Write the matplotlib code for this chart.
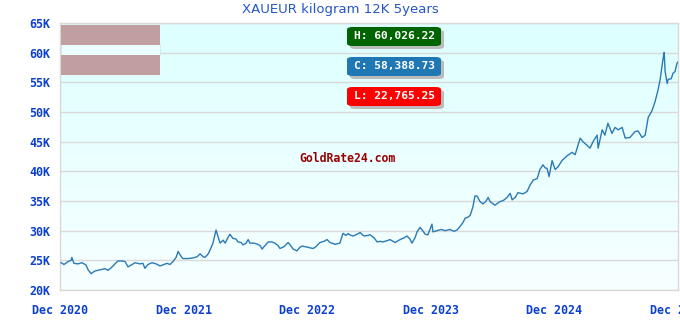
import numpy as np
import pandas as pd
import matplotlib
matplotlib.use("Agg")
import matplotlib.pyplot as plt
import matplotlib.dates as mdates
from matplotlib.patches import FancyBboxPatch, Rectangle

title = "XAUEUR kilogram 12K 5years"
high_label = "H: 60,026.22"
close_label = "C: 58,388.73"
low_label = "L: 22,765.25"
watermark = "GoldRate24.com"

dates = [
    "2020-12-04", "2020-12-13", "2020-12-25", "2021-01-03", "2021-01-05", "2021-01-11",
    "2021-01-23", "2021-02-04", "2021-02-16", "2021-02-22", "2021-03-03", "2021-03-14",
    "2021-03-29", "2021-04-13", "2021-04-22", "2021-05-04", "2021-05-21", "2021-06-02",
    "2021-06-11", "2021-06-20", "2021-07-02", "2021-07-11", "2021-07-25", "2021-08-03",
    "2021-08-09", "2021-08-18", "2021-08-30", "2021-09-11", "2021-09-23", "2021-10-04",
    "2021-10-13", "2021-10-22", "2021-10-31", "2021-11-09", "2021-11-15", "2021-11-21",
    "2021-11-29", "2021-12-14", "2021-12-29", "2022-01-10", "2022-01-19", "2022-01-28",
    "2022-02-02", "2022-02-11", "2022-02-17", "2022-02-26", "2022-03-07", "2022-03-13",
    "2022-03-19", "2022-03-28", "2022-04-03", "2022-04-11", "2022-04-17", "2022-04-26",
    "2022-05-05", "2022-05-11", "2022-05-20", "2022-05-26", "2022-06-04", "2022-06-10",
    "2022-06-15", "2022-06-27", "2022-07-06", "2022-07-15", "2022-07-21", "2022-07-30",
    "2022-08-08", "2022-08-19", "2022-08-28", "2022-09-06", "2022-09-12", "2022-09-24",
    "2022-10-06", "2022-10-12", "2022-10-21", "2022-11-01", "2022-11-10", "2022-11-16",
    "2022-11-25", "2022-12-04", "2022-12-10", "2022-12-19", "2022-12-27", "2023-01-08",
    "2023-01-20", "2023-01-29", "2023-02-07", "2023-02-22", "2023-03-08", "2023-03-17",
    "2023-03-26", "2023-04-01", "2023-04-10", "2023-04-16", "2023-04-28", "2023-05-07",
    "2023-05-15", "2023-05-21", "2023-06-05", "2023-06-17", "2023-06-26", "2023-07-05",
    "2023-07-13", "2023-07-25", "2023-08-03", "2023-08-18", "2023-09-02", "2023-09-14",
    "2023-09-22", "2023-10-01", "2023-10-07", "2023-10-16", "2023-10-22", "2023-10-31",
    "2023-11-09", "2023-11-15", "2023-11-23", "2023-12-05", "2023-12-08", "2023-12-20",
    "2024-01-01", "2024-01-13", "2024-01-27", "2024-02-08", "2024-02-17", "2024-02-26",
    "2024-03-06", "2024-03-12", "2024-03-21", "2024-03-27", "2024-04-04", "2024-04-10",
    "2024-04-16", "2024-04-25", "2024-05-04", "2024-05-13", "2024-05-19", "2024-05-25",
    "2024-06-08", "2024-06-23", "2024-07-02", "2024-07-14", "2024-07-23", "2024-07-29",
    "2024-08-07", "2024-08-15", "2024-08-30", "2024-09-11", "2024-09-20", "2024-09-29",
    "2024-10-11", "2024-10-19", "2024-10-28", "2024-11-03", "2024-11-09", "2024-11-15",
    "2024-11-24", "2024-12-03", "2024-12-12", "2024-12-23", "2025-01-07", "2025-01-22",
    "2025-01-31", "2025-02-06", "2025-02-15", "2025-02-23", "2025-03-07", "2025-03-16",
    "2025-03-25", "2025-04-06", "2025-04-09", "2025-04-21", "2025-04-29", "2025-05-08",
    "2025-05-20", "2025-05-29", "2025-06-07", "2025-06-19", "2025-06-28", "2025-07-12",
    "2025-07-27", "2025-08-05", "2025-08-17", "2025-08-26", "2025-09-04", "2025-09-15",
    "2025-09-24", "2025-10-03", "2025-10-09", "2025-10-18", "2025-10-21", "2025-10-24",
    "2025-10-30", "2025-11-02", "2025-11-11", "2025-11-16", "2025-11-22", "2025-11-28",
    "2025-11-30",
]

prices_k = [
    24.6, 24.3, 24.8, 25.0, 25.5, 24.5,
    24.4, 24.6, 24.2, 23.4, 22.765, 23.2,
    23.4, 23.6, 23.3, 23.9, 24.9, 24.9,
    24.8, 23.9, 24.3, 24.6, 24.4, 24.5,
    23.65, 24.3, 24.6, 24.4, 24.05, 24.3,
    24.5, 24.3, 24.8, 25.5, 26.5, 25.9,
    25.3, 25.3, 25.4, 25.6, 26.1, 25.6,
    25.5, 26.0, 26.7, 27.9, 30.1, 29.0,
    27.9, 28.4, 27.9, 28.8, 29.4, 28.7,
    28.6, 28.1, 28.0, 27.6, 27.9, 28.5,
    27.9, 27.9, 27.75, 27.5, 26.9, 27.5,
    28.1, 28.1, 27.9, 27.5, 27.0, 27.3,
    28.0, 27.6, 26.9, 26.6, 27.2, 27.4,
    27.3, 27.2, 27.1, 27.0, 27.3, 28.0,
    28.2, 28.5, 28.0, 27.7, 27.9, 29.55,
    29.2, 29.5, 29.2, 29.1, 29.4, 29.7,
    29.2, 29.1, 29.3, 28.8, 28.1, 28.2,
    28.1, 28.3, 28.5, 28.0, 28.5, 28.8,
    29.1, 28.6, 27.9, 28.8, 29.8, 30.55,
    29.9, 29.4, 29.3, 31.1, 29.8, 30.0,
    30.2, 30.0, 30.2, 29.9, 30.1, 30.7,
    31.4, 32.1, 32.3, 32.6, 34.0, 35.85,
    35.85, 34.9, 34.5, 35.0, 35.6, 34.9,
    34.3, 34.9, 35.05, 35.6, 36.3, 35.2,
    35.6, 36.4, 36.2, 36.6, 37.7, 38.5,
    38.8, 40.3, 41.1, 40.6, 40.5, 39.1,
    41.8, 40.3, 40.8, 41.8, 42.6, 43.2,
    42.8, 43.9, 45.6, 45.0, 44.4, 43.9,
    45.0, 46.1, 43.9, 47.0, 46.1, 48.1,
    46.4, 47.4, 47.0, 47.4, 45.6, 45.7,
    46.7, 46.8, 45.7, 46.1, 49.1, 50.2,
    51.7, 53.7, 55.4, 59.05, 60.026, 56.8,
    54.8, 55.5, 55.6, 56.5, 56.8, 58.2,
    58.389,
]

tick_dates = ["2020-12-01", "2021-12-01", "2022-12-01", "2023-12-01", "2024-12-01", "2025-12-01"]
tick_labels = ["Dec 2020", "Dec 2021", "Dec 2022", "Dec 2023", "Dec 2024", "Dec 2025"]
y_ticks = [20, 25, 30, 35, 40, 45, 50, 55, 60, 65]
y_tick_labels = ["20K", "25K", "30K", "35K", "40K", "45K", "50K", "55K", "60K", "65K"]

W, H = 680, 320
fig = plt.figure(figsize=(W / 100, H / 100), dpi=100)
fig.patch.set_facecolor("white")

def fx(px):
    return px / W

def fy(py):
    return 1 - py / H

ax = fig.add_axes([fx(60), fy(290), fx(678) - fx(60), fy(23) - fy(290)])

x = pd.to_datetime(dates)
y = np.array(prices_k)

xmin = pd.Timestamp(tick_dates[0])
xmax = pd.Timestamp(tick_dates[-1])
ax.set_xlim(xmin, xmax)
ax.set_ylim(20, 65)

# gradient background
grad = np.linspace(0, 1, 256).reshape(-1, 1)
top_c = np.array([221, 255, 255]) / 255
bot_c = np.array([247, 255, 255]) / 255
img = top_c * (1 - grad[..., None]) + bot_c * grad[..., None]
img = img.reshape(256, 1, 3)
ax.imshow(img, aspect="auto", extent=[mdates.date2num(xmin), mdates.date2num(xmax), 20, 65],
          origin="upper", zorder=0)

ax.set_yticks(y_ticks)
ax.set_yticklabels(y_tick_labels)
ax.set_xticks(pd.to_datetime(tick_dates))
ax.set_xticklabels(tick_labels)
ax.grid(axis="y", color="#d9d9d9", linewidth=1, zorder=1)
ax.grid(axis="x", visible=False)
for s in ax.spines.values():
    s.set_color("#d9d9d9")
    s.set_linewidth(1)
ax.tick_params(length=0)
tick_color = "#0a3fd0"
for lab in ax.get_yticklabels():
    lab.set_fontfamily("DejaVu Sans Mono")
    lab.set_fontweight("bold")
    lab.set_fontsize(8.4)
    lab.set_color(tick_color)
for lab in ax.get_xticklabels():
    lab.set_fontfamily("DejaVu Sans Mono")
    lab.set_fontweight("bold")
    lab.set_fontsize(8.4)
    lab.set_color(tick_color)
ax.tick_params(axis="y", pad=7)
ax.tick_params(axis="x", pad=10)

ax.plot(x, y, color="#2a7ab5", linewidth=1.0, zorder=3)

# title
fig.text(fx(340), fy(10), title, ha="center", va="center", fontsize=9.5,
         color="#2456c8", family="DejaVu Sans")

# legend-like rectangles
fig.patches.append(Rectangle((fx(61), fy(45)), fx(99), fy(25) - fy(45),
                             transform=fig.transFigure, facecolor="#c19fa0", edgecolor="none", zorder=5))
fig.patches.append(Rectangle((fx(61), fy(55)), fx(99), fy(44) - fy(55),
                             transform=fig.transFigure, facecolor="#ecffff", edgecolor="#d9e9e9",
                             linewidth=0.8, zorder=4))
fig.patches.append(Rectangle((fx(61), fy(75)), fx(99), fy(55) - fy(75),
                             transform=fig.transFigure, facecolor="#c19fa0", edgecolor="none", zorder=5))

# H / C / L badges
badges = [(high_label, "#006400", 27), (close_label, "#1f77b4", 57), (low_label, "#ff0000", 87)]
for label, color, top in badges:
    left, w, h = 347, 94, 19
    shadow = FancyBboxPatch((fx(left + 3), fy(top + h + 3)), fx(w), fy(top) - fy(top + h),
                            boxstyle="round,pad=0,rounding_size=0.008", transform=fig.transFigure,
                            facecolor="#bbbbbb", edgecolor="none", zorder=6)
    box = FancyBboxPatch((fx(left), fy(top + h)), fx(w), fy(top) - fy(top + h),
                         boxstyle="round,pad=0,rounding_size=0.008", transform=fig.transFigure,
                         facecolor=color, edgecolor="none", zorder=7)
    fig.patches.append(shadow)
    fig.patches.append(box)
    fig.text(fx(left + w / 2), fy(top + h / 2), label, ha="center", va="center",
             fontsize=8.1, fontweight="bold", family="DejaVu Sans Mono", color="white", zorder=8)

fig.text(fx(348), fy(158), watermark, ha="center", va="center", fontsize=8.3,
         fontweight="bold", family="DejaVu Sans Mono", color="#990000", zorder=8)

fig.savefig("out.png", dpi=100)
